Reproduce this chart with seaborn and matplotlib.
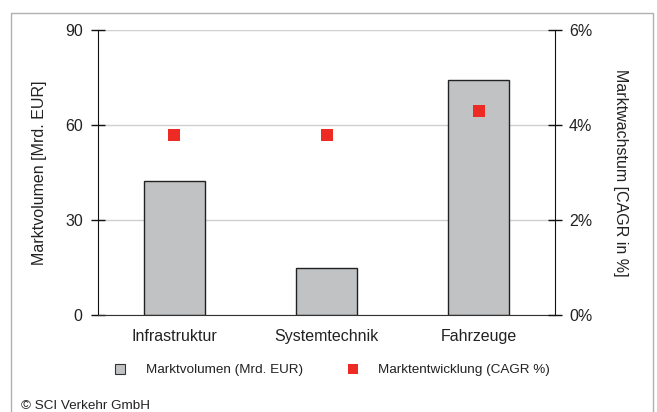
import matplotlib
matplotlib.use("Agg")
import matplotlib.pyplot as plt
import seaborn as sns
import numpy as np
import pandas as pd
from matplotlib.lines import Line2D
from matplotlib.patches import Rectangle
from matplotlib.ticker import FixedLocator

categories = ["Infrastruktur", "Systemtechnik", "Fahrzeuge"]
volume = [42.2, 14.8, 74.2]
cagr = [3.8, 3.8, 4.3]
left_ticks = [0, 30, 60, 90]
right_ticks = [0, 2, 4, 6]
right_labels = ["0%", "2%", "4%", "6%"]

sns.set_style("white")
plt.rcParams["font.family"] = ["Liberation Sans", "DejaVu Sans"]
txt = "#222222"

df = pd.DataFrame({"cat": categories, "vol": volume, "cagr": cagr})

fig = plt.figure(figsize=(6.57, 4.12), dpi=100)
ax = fig.add_axes([98/657, 1-315/412, (555-98)/657, (315-30)/412])

sns.barplot(data=df, x="cat", y="vol", ax=ax, color="#C1C2C4",
            edgecolor="#222222", linewidth=1.0, width=0.4, saturation=1)
ax.set_ylim(0, 90)
ax.set_yticks(left_ticks)
ax.yaxis.grid(True, color="#cfcfcf", linewidth=1.0)
ax.set_axisbelow(True)
ax.spines["top"].set_visible(False)
ax.spines["left"].set_color("#111111")
ax.spines["bottom"].set_color("#333333")
ax.spines["right"].set_visible(False)
ax.set_xlabel("")
ax.set_ylabel("Marktvolumen [Mrd. EUR]", fontsize=11.5, color=txt, labelpad=13)
ax.tick_params(axis="y", direction="inout", length=10, width=1, color="#111111",
               labelsize=11.5, labelcolor=txt, pad=6)
ax.tick_params(axis="x", which="major", length=0, labelsize=11.5, labelcolor=txt, pad=10)
n = len(categories)
ax.xaxis.set_minor_locator(FixedLocator(np.arange(n + 1) - 0.5))
ax.tick_params(axis="x", which="minor", direction="inout", length=8, width=1, color="#333333")

ax2 = ax.twinx()
sns.pointplot(data=df, x="cat", y="cagr", ax=ax2, color="#EE2A24",
              linestyle="none", marker="s", markersize=8.8, markeredgewidth=0,
              errorbar=None)
ax2.set_ylim(0, 6)
ax2.set_yticks(right_ticks)
ax2.set_yticklabels(right_labels)
for s in ["top", "left", "bottom"]:
    ax2.spines[s].set_visible(False)
ax2.spines["right"].set_color("#111111")
ax2.tick_params(axis="y", direction="inout", length=10, width=1, color="#111111",
                labelsize=11.5, labelcolor=txt, pad=5)
ax2.set_ylabel("Marktwachstum [CAGR in %]", fontsize=11.5, color=txt,
               rotation=-90, labelpad=26)
ax2.set_xlabel("")

handles = [
    Line2D([], [], marker="s", linestyle="none", markersize=7,
           markerfacecolor="#C1C2C4", markeredgecolor="#333333", markeredgewidth=0.8),
    Line2D([], [], marker="s", linestyle="none", markersize=7.5,
           markerfacecolor="#EE2A24", markeredgewidth=0),
]
fig.legend(handles, ["Marktvolumen (Mrd. EUR)", "Marktentwicklung (CAGR %)"],
           loc="center", bbox_to_anchor=(0.5, 1-370/412), ncol=2, frameon=False,
           fontsize=9.7, labelcolor=txt, columnspacing=2.7, handletextpad=0.9)

fig.text(21/657, 1-406/412, "© SCI Verkehr GmbH", fontsize=9.7, color=txt,
         ha="left", va="center")

fig.patches.append(Rectangle((11/657, -0.05), (653-11)/657, 1.05-12.5/412,
                             transform=fig.transFigure, fill=False,
                             edgecolor="#b0b0b0", linewidth=1.0))

fig.savefig("out.png", dpi=100)
